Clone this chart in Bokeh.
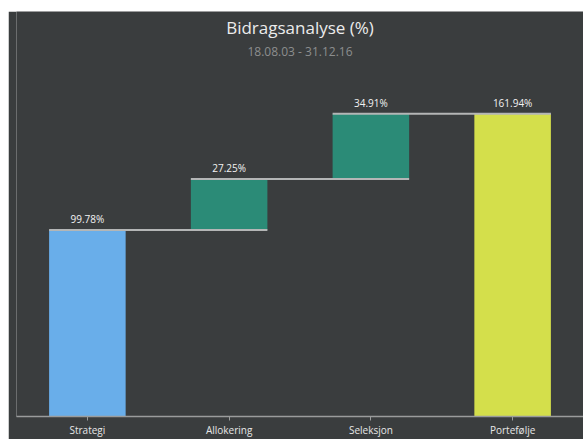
from bokeh.plotting import figure
from bokeh.models import ColumnDataSource, Label
from bokeh.core.properties import value
from bokeh.embed import file_html
from bokeh.resources import INLINE

categories = ["Strategi", "Allokering", "Seleksjon", "Portefølje"]
contrib = [99.78, 27.25, 34.91, 161.94]
is_total = [False, False, False, True]
labels = ["99.78%", "27.25%", "34.91%", "161.94%"]
colors = ["#69aeea", "#2b8b77", "#2b8b77", "#d4df4b"]

title_text = "Bidragsanalyse (%)"
subtitle_text = "18.08.03 - 31.12.16"

BG = "#3a3d3e"
BAR_W = 0.54

# build waterfall bottoms/tops
bottoms, tops = [], []
run = 0.0
for v, tot in zip(contrib, is_total):
    if tot:
        bottoms.append(0.0)
        tops.append(v)
    else:
        bottoms.append(run)
        run += v
        tops.append(run)

src = ColumnDataSource(dict(cat=categories, bottom=bottoms, top=tops,
                            color=colors, label=labels))

p = figure(x_range=categories, y_range=(0, 216.6), width=575, height=428,
           output_backend="svg", toolbar_location=None,
           min_border_left=8, min_border_right=0, min_border_top=0,
           min_border_bottom=14)
p.margin = (11, 0, 0, 8)
p.background_fill_color = BG
p.border_fill_color = BG
p.outline_line_color = None
p.xgrid.grid_line_color = None
p.ygrid.grid_line_color = None
p.yaxis.visible = False

p.vbar(x="cat", bottom="bottom", top="top", width=BAR_W, color="color",
       line_color=None, source=src)

# connector lines: from a bar's left edge to the next bar's right edge
x0s, x1s, ys = [], [], []
for i in range(len(categories) - 1):
    x0s.append(i + 0.5 - BAR_W / 2)
    x1s.append(i + 1.5 + BAR_W / 2)
    ys.append(tops[i])
p.segment(x0=x0s, y0=ys, x1=x1s, y1=ys, line_color="#b4b6b6", line_width=2)

p.text(x="cat", y="top", text="label", source=src, text_align="center",
       text_baseline="bottom", y_offset=-4, text_color="#f2f2f2",
       text_font_size="10px", text_font=value("Open Sans"))

p.add_layout(Label(x=2.0, y=208.1, text=title_text, text_align="center",
                   text_baseline="middle", text_color="#ececec",
                   text_font_size="17px", text_font="Open Sans"))
p.add_layout(Label(x=2.0, y=195.3, text=subtitle_text, text_align="center",
                   text_baseline="middle", text_color="#8c8e8e",
                   text_font_size="12px", text_font="Open Sans"))

ax = p.xaxis[0]
ax.axis_line_color = "#9a9c9c"
ax.axis_line_width = 1.5
ax.major_tick_line_color = "#9a9c9c"
ax.major_tick_in = 0
ax.major_tick_out = 4
ax.minor_tick_line_color = None
ax.major_label_text_color = "#e6e6e6"
ax.major_label_text_font_size = "10px"
ax.major_label_text_font = "Open Sans"
ax.major_label_standoff = 2

open("out.html", "w").write(file_html(p, INLINE))
